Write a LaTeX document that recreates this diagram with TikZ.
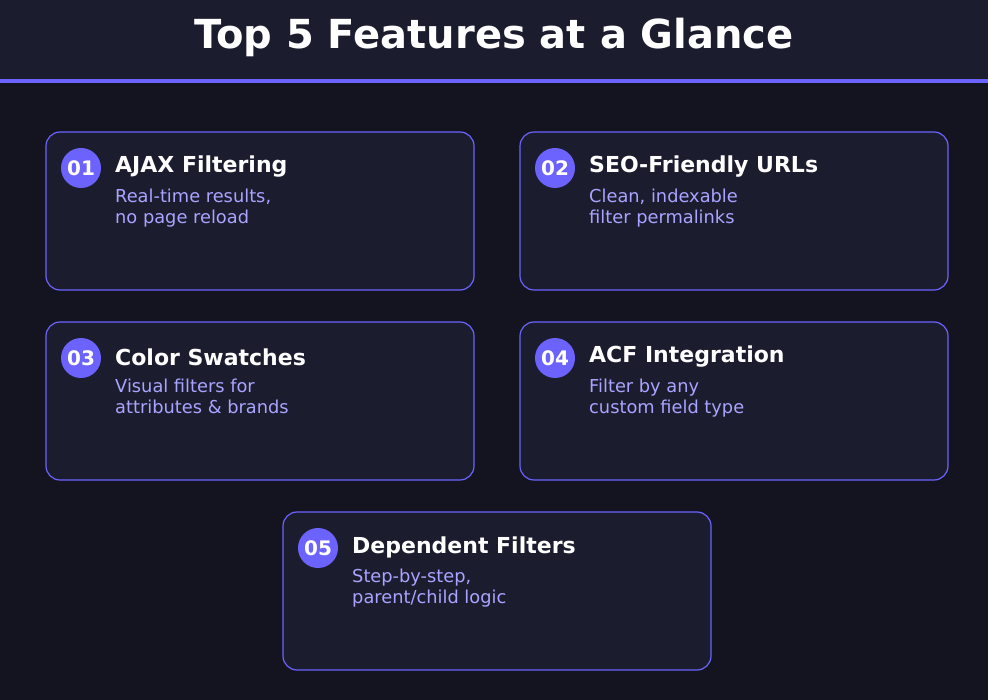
\documentclass[tikz,border=0pt]{standalone}
\usepackage{fontspec}
\setmainfont{DejaVu Sans}
\definecolor{bg}{HTML}{13141F}
\definecolor{card}{HTML}{1C1C2F}
\definecolor{acc}{HTML}{6C63FF}
\definecolor{sub}{HTML}{A9A4FF}
\tikzset{
 cardbox/.style={draw=acc,line width=1.2pt,fill=card,rounded corners=14pt},
 num/.style={circle,fill=acc,minimum size=40pt,inner sep=0,text=white,font=\fontsize{20}{20}\selectfont\bfseries},
 ttl/.style={anchor=west,text=white,font=\fontsize{22}{22}\selectfont\bfseries,inner sep=0},
 desc/.style={anchor=north west,text=sub,font=\fontsize{17.8}{21}\selectfont,align=left,inner sep=0}
}
\begin{document}
\begin{tikzpicture}[x=1pt,y=-1pt]
\fill[bg] (0,0) rectangle (988,700);
\useasboundingbox (0,0) rectangle (988,700);
\fill[card] (0,0) rectangle (988,79);
\fill[acc] (0,79) rectangle (988,83);
\node[text=white,font=\fontsize{40}{40}\selectfont\bfseries] (title) at (494,37) {Top 5 Features at a Glance};
\foreach \cx/\cy/\cn/\ct/\cd in {46/132/01/{AJAX Filtering}/{Real-time results,\\no page reload},
 520/132/02/{SEO-Friendly URLs}/{Clean, indexable\\filter permalinks},
 46/322/03/{Color Swatches}/{Visual filters for\\attributes \& brands},
 520/322/04/{ACF Integration}/{Filter by any\\custom field type},
 283/512/05/{Dependent Filters}/{Step-by-step,\\parent{/}child logic}}{
 \draw[cardbox] (\cx,\cy) rectangle ++(428,158);
 \node[num] (n\cn) at (\cx+35,\cy+36) {\cn};
 \node[ttl] (t\cn) at (\cx+69,\cy+35) {\ct};
 \node[desc] (d\cn) at (\cx+69,\cy+57) {\cd};
}
\end{tikzpicture}
\end{document}
